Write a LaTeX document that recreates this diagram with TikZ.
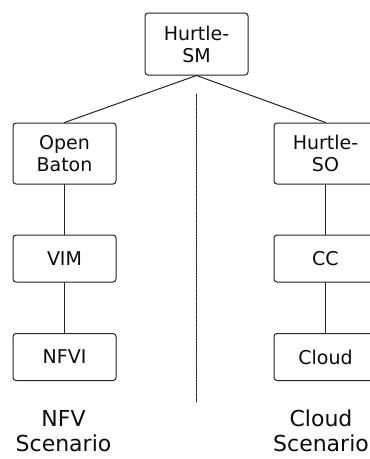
\documentclass[tikz,border=0pt]{standalone}
\usepackage{fontspec}
\setmainfont{DejaVu Sans}
\usepackage{tikz}
\usetikzlibrary{positioning}
\definecolor{inkline}{RGB}{35,35,35}
\definecolor{inktext}{RGB}{10,10,20}

\begin{document}
\begin{tikzpicture}[x=1pt,y=-1pt,line cap=round,
  blk/.style={draw=inkline,line width=1pt,rounded corners=3pt,
    minimum width=103pt,minimum height=47pt,align=center,
    font=\fontsize{19}{22}\selectfont,text=inktext,inner sep=2pt},
  link/.style={draw=inkline,line width=1pt},
  divider/.style={draw=inkline,line width=0.9pt,dash pattern=on 1.6pt off 1pt},
  scen/.style={align=center,font=\fontsize{22}{25}\selectfont,text=inktext}]
  \clip (0,0) rectangle (370,459);
  % management on top
  \node[blk,minimum height=62pt] (sm) at (196.5,44) {Hurtle-\\SM};
  % NFV column (left)
  \node[blk,minimum height=61pt] (baton) at (64.5,153.5) {Open\\Baton};
  \node[blk] (vim) at (64.5,258.5) {VIM};
  \node[blk] (nfvi) at (64.5,357) {NFVI};
  % cloud column (right, runs off the page)
  \node[blk,minimum height=61pt] (so) at (325.5,153.5) {Hurtle-\\SO};
  \node[blk] (cc) at (325.5,258.5) {CC};
  \node[blk] (cloud) at (325.5,357) {Cloud};
  % links
  \draw[link] (sm.south) -- (baton.north);
  \draw[link] (sm.south) -- (so.north);
  \draw[link] (baton) -- (vim);
  \draw[link] (vim) -- (nfvi);
  \draw[link] (so) -- (cc);
  \draw[link] (cc) -- (cloud);
  % split between the two scenarios
  \coordinate (divtop) at (196,94);
  \coordinate (divbot) at (196,402);
  \draw[divider] (divtop) -- (divbot);
  % scenario names
  \node[scen] (nfvlbl) at (63.5,431) {NFV\\Scenario};
  \node[scen] (cloudlbl) at (321,431) {Cloud\\Scenario};
\end{tikzpicture}
\end{document}
